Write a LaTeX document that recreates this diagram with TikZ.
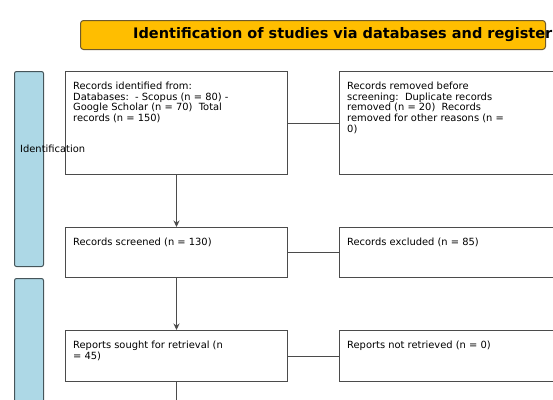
\documentclass[tikz,border=0pt]{standalone}
\usepackage{fontspec}
\setmainfont{DejaVu Sans}
\usepackage{tikz}
\usetikzlibrary{positioning}
\usetikzlibrary{arrows.meta}
\definecolor{headerorange}{RGB}{255,190,0}
\definecolor{headerline}{RGB}{110,90,45}
\definecolor{barblue}{RGB}{173,216,230}
\definecolor{barline}{RGB}{70,85,90}
\definecolor{boxline}{RGB}{75,75,75}

\begin{document}
\begin{tikzpicture}
      [
        x = 1pt, y = 1pt,
        font = \fontsize{9.9}{10.8}\selectfont,
        flowbox/.style = {draw = boxline, line width = 1pt, minimum width = 222pt, anchor = north west, inner sep = 0pt},
        boxtext/.style = {anchor = north west, align = left, inner xsep = 8pt, inner ysep = 10.5pt},
        phasebar/.style = {draw = barline, fill = barblue, line width = 1pt, rounded corners = 2pt, minimum width = 29pt, anchor = north west, inner sep = 0pt},
        link/.style = {draw = boxline, line width = 1pt},
        flow/.style = {link, -{Stealth[length = 6.5pt, width = 6pt]}}
      ]

      \useasboundingbox (0,0) rectangle (553,-399);

      \node[draw = headerline, fill = headerorange, line width = 1pt, rounded corners = 3pt, minimum width = 465pt, minimum height = 29pt, anchor = north west, inner sep = 0pt] (header) at (80,-20) {};
      \node[anchor = west, inner sep = 0pt, font = \fontsize{14.5}{16}\selectfont\bfseries] (title) at ([xshift = 53pt]header.west) {Identification of studies via databases and registers};

      \node[phasebar, minimum height = 195pt] (identbar) at (14,-71) {};
      \node[phasebar, minimum height = 200pt] (screenbar) at (14,-278) {};

      \node[flowbox, minimum height = 103pt, label = {[boxtext]north west:{Records identified from:\\ Databases:\ \ - Scopus (n = 80) -\\ Google Scholar (n = 70)\ \ Total\\ records (n = 150)}}] (identified) at (65,-71) {};
      \node[flowbox, minimum height = 103pt, right = 51pt of identified.north east, anchor = north west, label = {[boxtext]north west:{Records removed before\\ screening:\ \ Duplicate records\\ removed (n = 20)\ \ Records\\ removed for other reasons (n =\\ 0)}}] (removed) {};

      \node[flowbox, minimum height = 50pt, below = 52pt of identified.south west, anchor = north west, label = {[boxtext]north west:{Records screened (n = 130)}}] (screened) {};
      \node[flowbox, minimum height = 50pt, right = 51pt of screened.north east, anchor = north west, label = {[boxtext]north west:{Records excluded (n = 85)}}] (excluded) {};

      \node[flowbox, minimum height = 51pt, below = 52pt of screened.south west, anchor = north west, label = {[boxtext]north west:{Reports sought for retrieval (n\\ = 45)}}] (sought) {};
      \node[flowbox, minimum height = 51pt, right = 51pt of sought.north east, anchor = north west, label = {[boxtext]north west:{Reports not retrieved (n = 0)}}] (notretrieved) {};

      \coordinate[below = 40pt of sought.south] (next);

      \draw[flow] (identified) -- (screened);
      \draw[flow] (screened) -- (sought);
      \draw[link] (sought) -- (next);
      \draw[link] (identified) -- (removed);
      \draw[link] (screened) -- (excluded);
      \draw[link] (sought) -- (notretrieved);

      \node[anchor = west, inner sep = 0pt] (identlabel) at (20,-149) {Identification};

\end{tikzpicture}
\end{document}
